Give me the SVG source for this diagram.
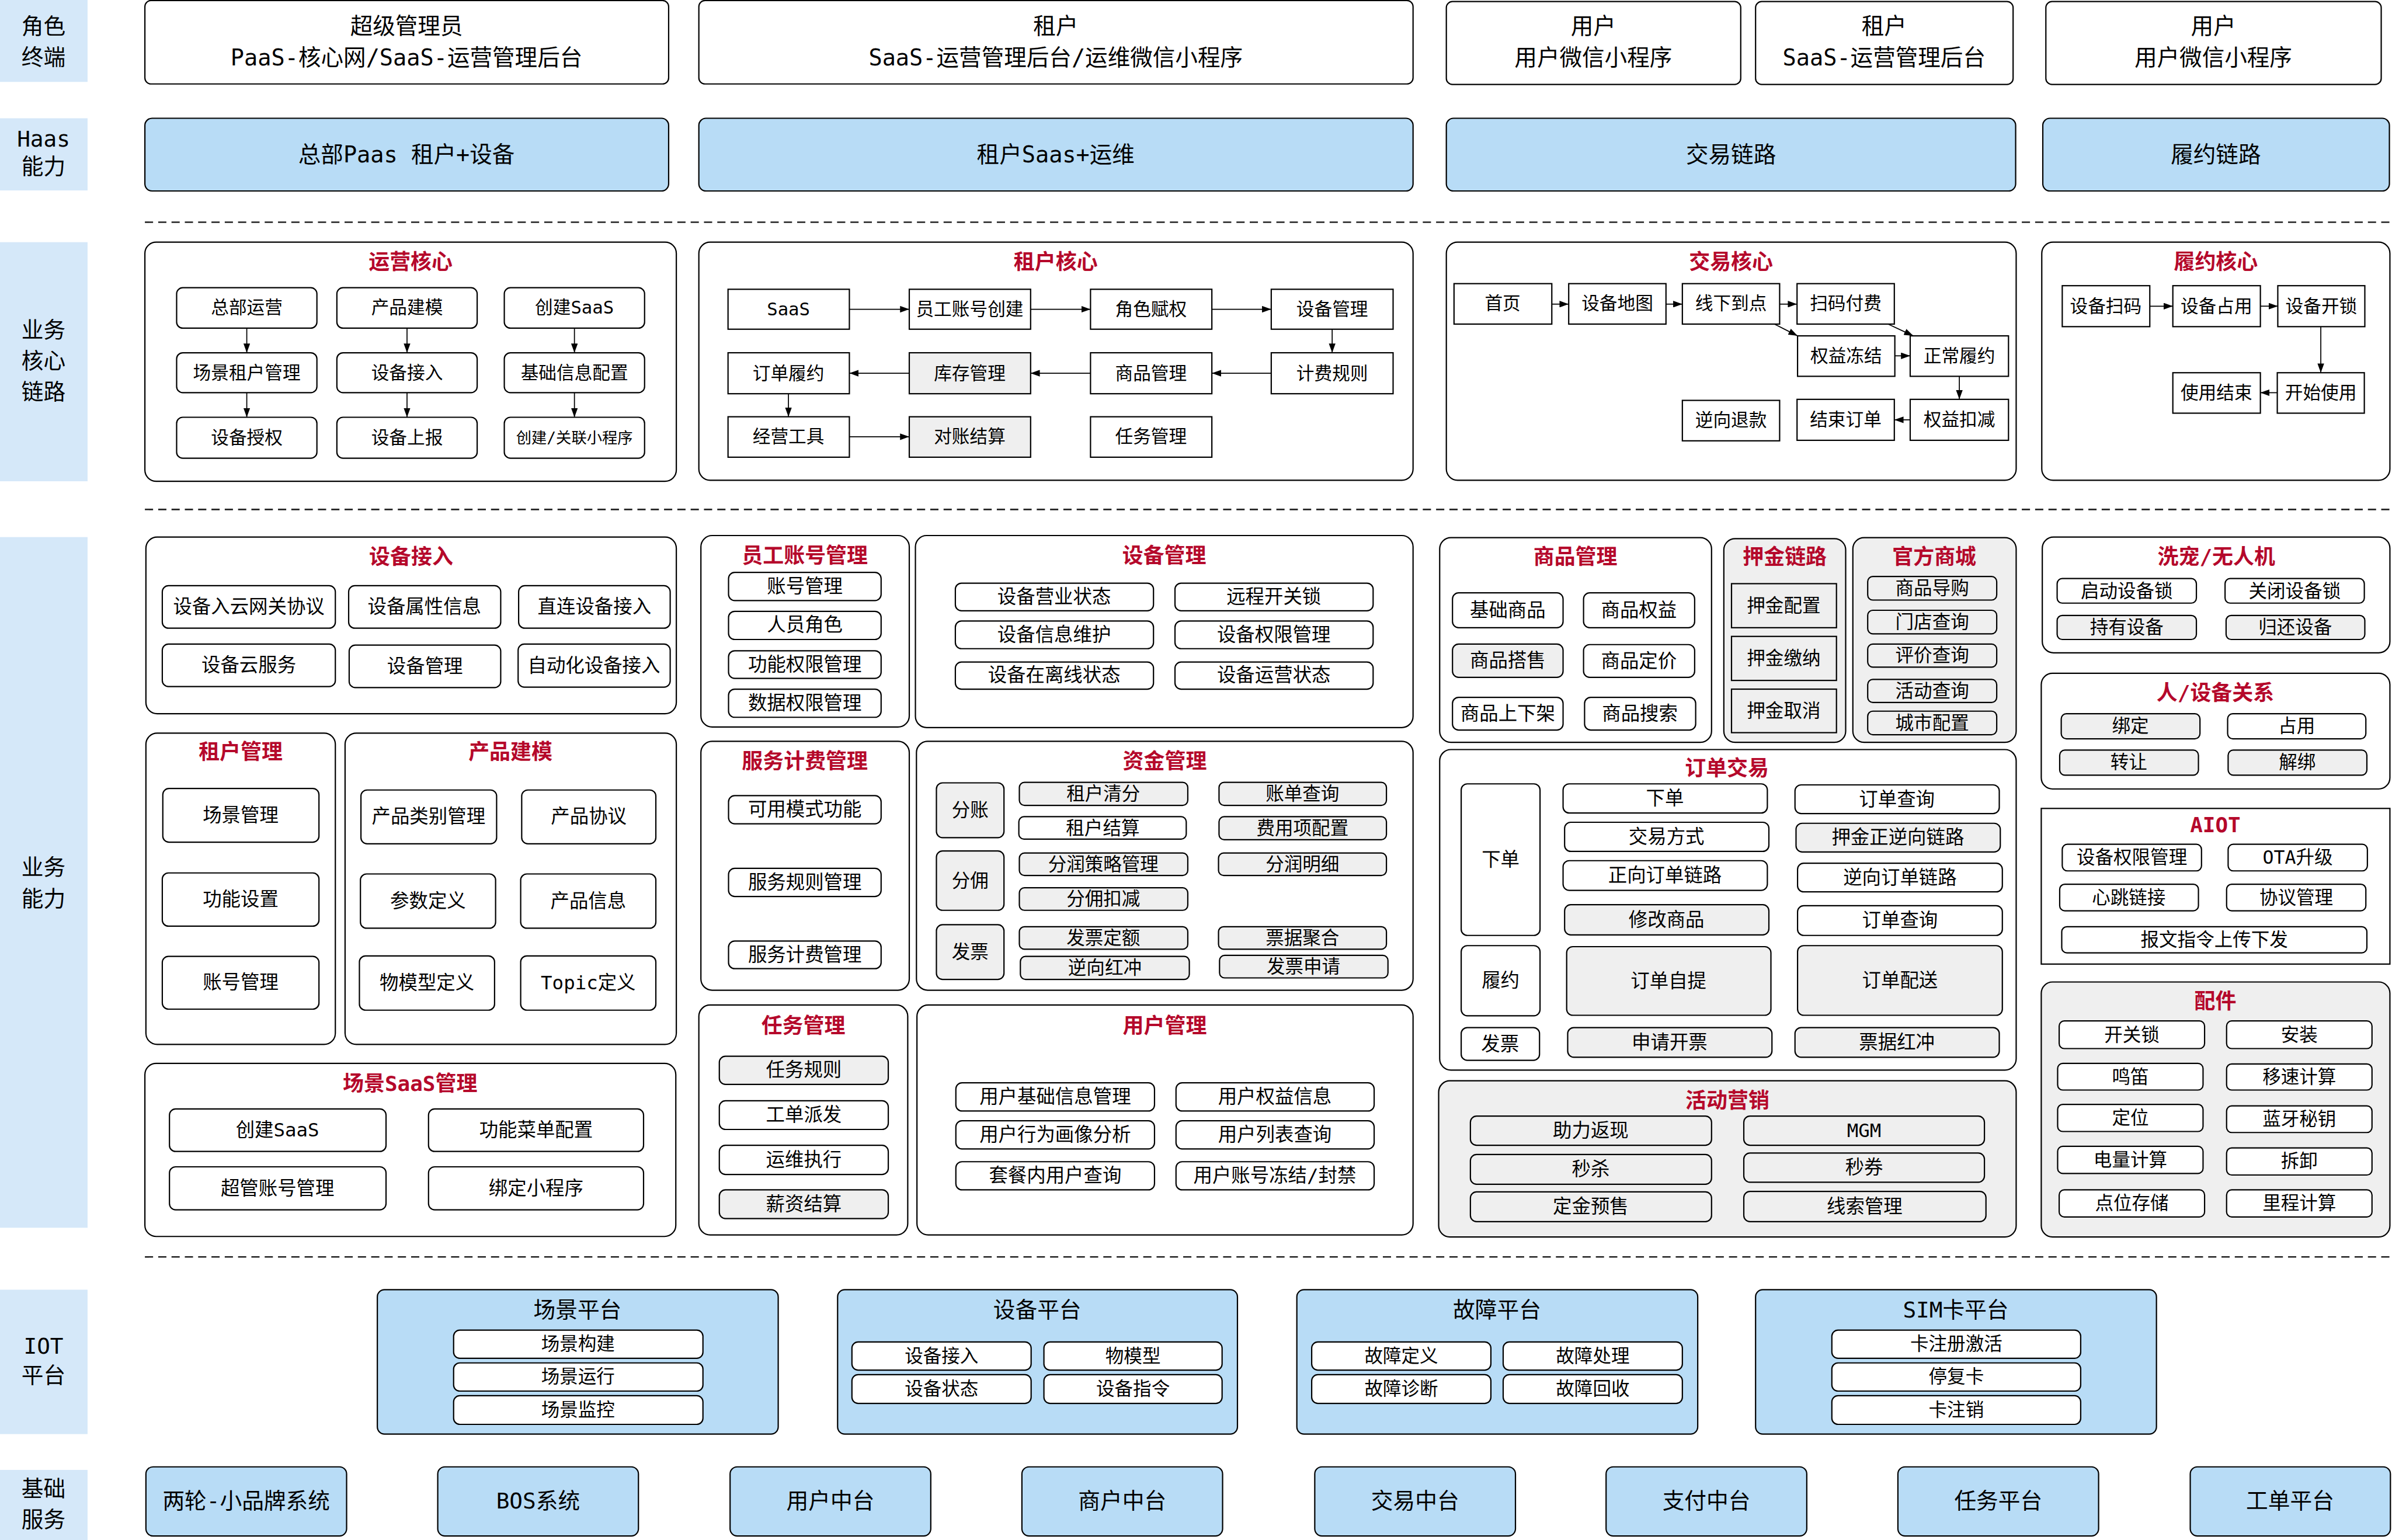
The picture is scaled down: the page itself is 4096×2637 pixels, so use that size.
<svg xmlns="http://www.w3.org/2000/svg" width="4096" height="2637" viewBox="0 0 4096 2637">
<style>
.n{fill:#fff;stroke:#000;stroke-width:2.5}
.g{fill:#efefef;stroke:#000;stroke-width:2.5}
.bl{fill:#b8dcf6;stroke:#000;stroke-width:2.5}
.lb{fill:#d5e8f9}
.dash{stroke:#222;stroke-width:3;stroke-dasharray:16 10;fill:none}
.c{stroke:#000;stroke-width:2;fill:none;marker-end:url(#ah)}
text{font-family:"DejaVu Sans Mono","Noto Sans CJK SC",monospace;text-anchor:middle;dominant-baseline:central;fill:#000;font-size:37px}
.s44{font-size:44px}.s43{font-size:43px}.s36{font-size:36px}.s35{font-size:35px}.s30{font-size:30px}
.tt{font-size:41px;font-weight:bold;fill:#b5082b}
</style>
<defs>
<marker id="ah" viewBox="0 0 18 13" refX="18" refY="6.5" markerWidth="18" markerHeight="13" markerUnits="userSpaceOnUse" orient="auto"><path d="M0,0L18,6.5L0,13z" fill="#000"/></marker>
</defs>
<g transform="scale(0.8767)">
<rect width="4672" height="3008" fill="#fff"/>

<g id="side-labels">
<g id="lbl-role"><rect class="lb" x="0" y="0" width="171" height="160"/><text class="s43" x="85" y="51">角色</text><text class="s43" x="85" y="112">终端</text></g>
<g id="lbl-haas"><rect class="lb" x="0" y="231" width="171" height="141"/><text class="s43" x="85" y="272">Haas</text><text class="s43" x="85" y="325">能力</text></g>
<g id="lbl-core"><rect class="lb" x="0" y="473" width="171" height="467"/><text class="s43" x="85" y="645">业务</text><text class="s43" x="85" y="705">核心</text><text class="s43" x="85" y="765">链路</text></g>
<g id="lbl-ability"><rect class="lb" x="0" y="1049" width="171" height="1349"/><text class="s43" x="85" y="1694">业务</text><text class="s43" x="85" y="1755">能力</text></g>
<g id="lbl-iot"><rect class="lb" x="0" y="2519" width="171" height="282"/><text class="s43" x="85" y="2629">IOT</text><text class="s43" x="85" y="2686">平台</text></g>
<g id="lbl-base"><rect class="lb" x="0" y="2871" width="171" height="137"/><text class="s43" x="85" y="2908">基础</text><text class="s43" x="85" y="2968">服务</text></g>
</g>

<g id="role-1"><rect class="n" x="283" y="1" width="1023" height="163" rx="12"/><text class="s44" x="794" y="51">超级管理员</text><text class="s44" x="794" y="112">PaaS-核心网/SaaS-运营管理后台</text></g>
<g id="role-2"><rect class="n" x="1365" y="1" width="1395" height="163" rx="12"/><text class="s44" x="2062" y="51">租户</text><text class="s44" x="2062" y="112">SaaS-运营管理后台/运维微信小程序</text></g>
<g id="role-3"><rect class="n" x="2825" y="3" width="575" height="162" rx="12"/><text class="s44" x="3112" y="51">用户</text><text class="s44" x="3112" y="112">用户微信小程序</text></g>
<g id="role-4"><rect class="n" x="3429" y="3" width="503" height="162" rx="12"/><text class="s44" x="3680" y="51">租户</text><text class="s44" x="3680" y="112">SaaS-运营管理后台</text></g>
<g id="role-5"><rect class="n" x="3996" y="3" width="655" height="162" rx="12"/><text class="s44" x="4323" y="51">用户</text><text class="s44" x="4323" y="112">用户微信小程序</text></g>

<g id="haas-1"><rect class="bl" x="283" y="231" width="1023" height="142" rx="14"/><text class="s44" x="794" y="302">总部Paas&#160;租户+设备</text></g>
<g id="haas-2"><rect class="bl" x="1365" y="231" width="1395" height="142" rx="14"/><text class="s44" x="2062" y="302">租户Saas+运维</text></g>
<g id="haas-3"><rect class="bl" x="2825" y="231" width="1112" height="142" rx="14"/><text class="s44" x="3381" y="302">交易链路</text></g>
<g id="haas-4"><rect class="bl" x="3990" y="231" width="677" height="142" rx="14"/><text class="s44" x="4328" y="302">履约链路</text></g>

<g id="dividers">
<line class="dash" x1="283" y1="434" x2="4672" y2="434"/>
<line class="dash" x1="283" y1="995" x2="4672" y2="995"/>
<line class="dash" x1="283" y1="2455" x2="4672" y2="2455"/>
</g>

<g id="core-ops"><rect class="n" x="283" y="473" width="1038" height="467" rx="22"/><text class="tt" x="802" y="512">运营核心</text></g>
<g id="core-tenant"><rect class="n" x="1365" y="473" width="1395" height="465" rx="22"/><text class="tt" x="2062" y="512">租户核心</text></g>
<g id="core-trade"><rect class="n" x="2825" y="473" width="1113" height="465" rx="22"/><text class="tt" x="3381" y="512">交易核心</text></g>
<g id="core-fulfill"><rect class="n" x="3988" y="473" width="680" height="465" rx="22"/><text class="tt" x="4328" y="512">履约核心</text></g>

<g id="ops-1"><rect class="n" x="345" y="562" width="274" height="79" rx="12"/><text class="s35" x="482" y="601">总部运营</text></g>
<g id="ops-2"><rect class="n" x="345" y="689" width="274" height="78" rx="12"/><text class="s35" x="482" y="728">场景租户管理</text></g>
<g id="ops-3"><rect class="n" x="345" y="815" width="274" height="80" rx="12"/><text class="s35" x="482" y="855">设备授权</text></g>
<g id="ops-4"><rect class="n" x="658" y="562" width="274" height="79" rx="12"/><text class="s35" x="795" y="601">产品建模</text></g>
<g id="ops-5"><rect class="n" x="658" y="689" width="274" height="78" rx="12"/><text class="s35" x="795" y="728">设备接入</text></g>
<g id="ops-6"><rect class="n" x="658" y="815" width="274" height="80" rx="12"/><text class="s35" x="795" y="855">设备上报</text></g>
<g id="ops-7"><rect class="n" x="985" y="562" width="274" height="79" rx="12"/><text class="s35" x="1122" y="601">创建SaaS</text></g>
<g id="ops-8"><rect class="n" x="985" y="689" width="274" height="78" rx="12"/><text class="s35" x="1122" y="728">基础信息配置</text></g>
<g id="ops-9"><rect class="n" x="985" y="815" width="274" height="80" rx="12"/><text class="s30" x="1122" y="855">创建/关联小程序</text></g>

<g id="ten-1"><rect class="n" x="1422" y="565" width="237" height="78"/><text class="s35" x="1540" y="604">SaaS</text></g>
<g id="ten-2"><rect class="n" x="1776" y="565" width="237" height="78"/><text class="s35" x="1894" y="604">员工账号创建</text></g>
<g id="ten-3"><rect class="n" x="2130" y="565" width="237" height="78"/><text class="s35" x="2248" y="604">角色赋权</text></g>
<g id="ten-4"><rect class="n" x="2483" y="565" width="238" height="78"/><text class="s35" x="2602" y="604">设备管理</text></g>
<g id="ten-5"><rect class="n" x="1422" y="689" width="237" height="80"/><text class="s35" x="1540" y="729">订单履约</text></g>
<g id="ten-6"><rect class="g" x="1776" y="689" width="237" height="80"/><text class="s35" x="1894" y="729">库存管理</text></g>
<g id="ten-7"><rect class="n" x="2130" y="689" width="237" height="80"/><text class="s35" x="2248" y="729">商品管理</text></g>
<g id="ten-8"><rect class="n" x="2483" y="689" width="238" height="80"/><text class="s35" x="2602" y="729">计费规则</text></g>
<g id="ten-9"><rect class="n" x="1422" y="814" width="237" height="79"/><text class="s35" x="1540" y="853">经营工具</text></g>
<g id="ten-10"><rect class="g" x="1776" y="814" width="237" height="79"/><text class="s35" x="1894" y="853">对账结算</text></g>
<g id="ten-11"><rect class="n" x="2130" y="814" width="237" height="79"/><text class="s35" x="2248" y="853">任务管理</text></g>

<g id="tr-1"><rect class="n" x="2840" y="554" width="191" height="79"/><text class="s35" x="2935" y="593">首页</text></g>
<g id="tr-2"><rect class="n" x="3064" y="554" width="190" height="79"/><text class="s35" x="3159" y="593">设备地图</text></g>
<g id="tr-3"><rect class="n" x="3286" y="554" width="190" height="79"/><text class="s35" x="3381" y="593">线下到点</text></g>
<g id="tr-4"><rect class="n" x="3510" y="554" width="190" height="79"/><text class="s35" x="3605" y="593">扫码付费</text></g>
<g id="tr-5"><rect class="n" x="3511" y="656" width="190" height="79"/><text class="s35" x="3606" y="695">权益冻结</text></g>
<g id="tr-6"><rect class="n" x="3731" y="656" width="192" height="79"/><text class="s35" x="3827" y="695">正常履约</text></g>
<g id="tr-7"><rect class="n" x="3510" y="780" width="190" height="80"/><text class="s35" x="3605" y="820">结束订单</text></g>
<g id="tr-8"><rect class="n" x="3731" y="780" width="192" height="80"/><text class="s35" x="3827" y="820">权益扣减</text></g>
<g id="tr-9"><rect class="n" x="3286" y="782" width="190" height="79"/><text class="s35" x="3381" y="821">逆向退款</text></g>

<g id="fu-1"><rect class="n" x="4028" y="558" width="171" height="80"/><text class="s35" x="4113" y="598">设备扫码</text></g>
<g id="fu-2"><rect class="n" x="4244" y="558" width="171" height="80"/><text class="s35" x="4329" y="598">设备占用</text></g>
<g id="fu-3"><rect class="n" x="4449" y="558" width="170" height="80"/><text class="s35" x="4534" y="598">设备开锁</text></g>
<g id="fu-4"><rect class="n" x="4244" y="728" width="171" height="79"/><text class="s35" x="4329" y="767">使用结束</text></g>
<g id="fu-5"><rect class="n" x="4448" y="728" width="170" height="79"/><text class="s35" x="4533" y="767">开始使用</text></g>

<g id="connectors">
<line class="c" x1="482" y1="641" x2="482" y2="689"/>
<line class="c" x1="482" y1="767" x2="482" y2="815"/>
<line class="c" x1="795" y1="641" x2="795" y2="689"/>
<line class="c" x1="795" y1="767" x2="795" y2="815"/>
<line class="c" x1="1122" y1="641" x2="1122" y2="689"/>
<line class="c" x1="1122" y1="767" x2="1122" y2="815"/>
<line class="c" x1="1659" y1="604" x2="1776" y2="604"/>
<line class="c" x1="2013" y1="604" x2="2130" y2="604"/>
<line class="c" x1="2367" y1="604" x2="2483" y2="604"/>
<line class="c" x1="2602" y1="643" x2="2602" y2="689"/>
<line class="c" x1="2483" y1="729" x2="2367" y2="729"/>
<line class="c" x1="2130" y1="729" x2="2013" y2="729"/>
<line class="c" x1="1776" y1="729" x2="1659" y2="729"/>
<line class="c" x1="1540" y1="769" x2="1540" y2="814"/>
<line class="c" x1="1659" y1="853" x2="1776" y2="853"/>
<line class="c" x1="3031" y1="594" x2="3064" y2="594"/>
<line class="c" x1="3254" y1="594" x2="3286" y2="594"/>
<line class="c" x1="3476" y1="594" x2="3510" y2="594"/>
<line class="c" x1="3466" y1="633" x2="3511" y2="656"/>
<line class="c" x1="3688" y1="633" x2="3737" y2="656"/>
<line class="c" x1="3701" y1="695" x2="3731" y2="695"/>
<line class="c" x1="3827" y1="735" x2="3827" y2="780"/>
<line class="c" x1="3731" y1="820" x2="3700" y2="820"/>
<line class="c" x1="4199" y1="598" x2="4244" y2="598"/>
<line class="c" x1="4415" y1="598" x2="4449" y2="598"/>
<line class="c" x1="4533" y1="638" x2="4533" y2="728"/>
<line class="c" x1="4448" y1="767" x2="4415" y2="767"/>
</g>

<g id="ab-devaccess"><rect class="n" x="285" y="1049" width="1036" height="345" rx="22"/><text class="tt" x="803" y="1088">设备接入</text></g>
<g id="da-1"><rect class="n" x="317" y="1144" width="338" height="83" rx="12"/><text x="486" y="1185">设备入云网关协议</text></g>
<g id="da-2"><rect class="n" x="681" y="1144" width="297" height="83" rx="12"/><text x="829" y="1185">设备属性信息</text></g>
<g id="da-3"><rect class="n" x="1013" y="1144" width="296" height="83" rx="12"/><text x="1161" y="1185">直连设备接入</text></g>
<g id="da-4"><rect class="n" x="317" y="1258" width="338" height="83" rx="12"/><text x="486" y="1299">设备云服务</text></g>
<g id="da-5"><rect class="n" x="682" y="1260" width="296" height="83" rx="12"/><text x="830" y="1301">设备管理</text></g>
<g id="da-6"><rect class="n" x="1012" y="1258" width="297" height="84" rx="12"/><text x="1160" y="1300">自动化设备接入</text></g>

<g id="ab-tenant"><rect class="n" x="285" y="1432" width="370" height="608" rx="22"/><text class="tt" x="470" y="1469">租户管理</text></g>
<g id="tm-1"><rect class="n" x="318" y="1540" width="305" height="105" rx="12"/><text x="470" y="1592">场景管理</text></g>
<g id="tm-2"><rect class="n" x="317" y="1705" width="306" height="104" rx="12"/><text x="470" y="1757">功能设置</text></g>
<g id="tm-3"><rect class="n" x="317" y="1868" width="306" height="103" rx="12"/><text x="470" y="1919">账号管理</text></g>

<g id="ab-product"><rect class="n" x="674" y="1432" width="647" height="608" rx="22"/><text class="tt" x="997" y="1469">产品建模</text></g>
<g id="pm-1"><rect class="n" x="705" y="1543" width="265" height="105" rx="12"/><text x="837" y="1595">产品类别管理</text></g>
<g id="pm-2"><rect class="n" x="1019" y="1543" width="262" height="105" rx="12"/><text x="1150" y="1595">产品协议</text></g>
<g id="pm-3"><rect class="n" x="704" y="1707" width="264" height="106" rx="12"/><text x="836" y="1760">参数定义</text></g>
<g id="pm-4"><rect class="n" x="1017" y="1707" width="264" height="106" rx="12"/><text x="1149" y="1760">产品信息</text></g>
<g id="pm-5"><rect class="n" x="702" y="1867" width="264" height="106" rx="12"/><text x="834" y="1920">物模型定义</text></g>
<g id="pm-6"><rect class="n" x="1017" y="1867" width="264" height="106" rx="12"/><text x="1149" y="1920">Topic定义</text></g>

<g id="ab-scene"><rect class="n" x="283" y="2077" width="1037" height="338" rx="22"/><text class="tt" x="801" y="2116">场景SaaS管理</text></g>
<g id="sc-1"><rect class="n" x="331" y="2166" width="423" height="83" rx="12"/><text x="542" y="2207">创建SaaS</text></g>
<g id="sc-2"><rect class="n" x="837" y="2166" width="420" height="83" rx="12"/><text x="1047" y="2207">功能菜单配置</text></g>
<g id="sc-3"><rect class="n" x="331" y="2279" width="423" height="84" rx="12"/><text x="542" y="2321">超管账号管理</text></g>
<g id="sc-4"><rect class="n" x="837" y="2279" width="420" height="84" rx="12"/><text x="1047" y="2321">绑定小程序</text></g>

<g id="ab-staff"><rect class="n" x="1369" y="1046" width="407" height="374" rx="22"/><text class="tt" x="1572" y="1085">员工账号管理</text></g>
<g id="st-1"><rect class="n" x="1423" y="1118" width="298" height="55" rx="12"/><text x="1572" y="1145">账号管理</text></g>
<g id="st-2"><rect class="n" x="1423" y="1194" width="298" height="55" rx="12"/><text x="1572" y="1221">人员角色</text></g>
<g id="st-3"><rect class="n" x="1423" y="1271" width="298" height="54" rx="12"/><text x="1572" y="1298">功能权限管理</text></g>
<g id="st-4"><rect class="n" x="1423" y="1346" width="298" height="55" rx="12"/><text x="1572" y="1373">数据权限管理</text></g>

<g id="ab-device"><rect class="n" x="1788" y="1046" width="972" height="375" rx="22"/><text class="tt" x="2274" y="1085">设备管理</text></g>
<g id="dm-1"><rect class="n" x="1866" y="1139" width="387" height="54" rx="12"/><text x="2059" y="1166">设备营业状态</text></g>
<g id="dm-2"><rect class="n" x="1866" y="1213" width="387" height="54" rx="12"/><text x="2059" y="1240">设备信息维护</text></g>
<g id="dm-3"><rect class="n" x="1866" y="1293" width="387" height="53" rx="12"/><text x="2059" y="1319">设备在离线状态</text></g>
<g id="dm-4"><rect class="n" x="2295" y="1139" width="387" height="54" rx="12"/><text x="2488" y="1166">远程开关锁</text></g>
<g id="dm-5"><rect class="n" x="2295" y="1213" width="387" height="54" rx="12"/><text x="2488" y="1240">设备权限管理</text></g>
<g id="dm-6"><rect class="n" x="2295" y="1293" width="387" height="53" rx="12"/><text x="2488" y="1319">设备运营状态</text></g>

<g id="ab-billing"><rect class="n" x="1369" y="1448" width="407" height="486" rx="22"/><text class="tt" x="1572" y="1487">服务计费管理</text></g>
<g id="bi-1"><rect class="n" x="1423" y="1554" width="298" height="55" rx="12"/><text x="1572" y="1581">可用模式功能</text></g>
<g id="bi-2"><rect class="n" x="1423" y="1696" width="298" height="55" rx="12"/><text x="1572" y="1723">服务规则管理</text></g>
<g id="bi-3"><rect class="n" x="1423" y="1838" width="298" height="54" rx="12"/><text x="1572" y="1865">服务计费管理</text></g>

<g id="ab-fund"><rect class="n" x="1790" y="1448" width="970" height="486" rx="22"/><text class="tt" x="2275" y="1487">资金管理</text></g>
<g id="fd-1"><rect class="g" x="1829" y="1529" width="132" height="107" rx="12"/><text class="s36" x="1895" y="1582">分账</text></g>
<g id="fd-2"><rect class="g" x="1829" y="1662" width="132" height="116" rx="12"/><text class="s36" x="1895" y="1720">分佣</text></g>
<g id="fd-3"><rect class="g" x="1829" y="1806" width="132" height="107" rx="12"/><text class="s36" x="1895" y="1859">发票</text></g>
<g id="fd-4"><rect class="g" x="1991" y="1528" width="329" height="45" rx="10"/><text class="s36" x="2155" y="1550">租户清分</text></g>
<g id="fd-5"><rect class="n" x="1990" y="1595" width="327" height="44" rx="10"/><text class="s36" x="2154" y="1617">租户结算</text></g>
<g id="fd-6"><rect class="g" x="1991" y="1666" width="329" height="44" rx="10"/><text class="s36" x="2155" y="1688">分润策略管理</text></g>
<g id="fd-7"><rect class="g" x="1991" y="1734" width="329" height="44" rx="10"/><text class="s36" x="2155" y="1756">分佣扣减</text></g>
<g id="fd-8"><rect class="g" x="1991" y="1810" width="329" height="44" rx="10"/><text class="s36" x="2155" y="1832">发票定额</text></g>
<g id="fd-9"><rect class="g" x="1993" y="1868" width="330" height="45" rx="10"/><text class="s36" x="2158" y="1890">逆向红冲</text></g>
<g id="fd-10"><rect class="g" x="2381" y="1528" width="327" height="45" rx="10"/><text class="s36" x="2544" y="1550">账单查询</text></g>
<g id="fd-11"><rect class="g" x="2381" y="1595" width="327" height="45" rx="10"/><text class="s36" x="2544" y="1617">费用项配置</text></g>
<g id="fd-12"><rect class="g" x="2380" y="1666" width="328" height="44" rx="10"/><text class="s36" x="2544" y="1688">分润明细</text></g>
<g id="fd-13"><rect class="g" x="2380" y="1810" width="328" height="44" rx="10"/><text class="s36" x="2544" y="1832">票据聚合</text></g>
<g id="fd-14"><rect class="g" x="2382" y="1866" width="329" height="44" rx="10"/><text class="s36" x="2546" y="1888">发票申请</text></g>

<g id="ab-task"><rect class="n" x="1365" y="1963" width="408" height="449" rx="22"/><text class="tt" x="1569" y="2003">任务管理</text></g>
<g id="tk-1"><rect class="g" x="1405" y="2063" width="330" height="55" rx="12"/><text x="1570" y="2090">任务规则</text></g>
<g id="tk-2"><rect class="n" x="1405" y="2150" width="330" height="56" rx="12"/><text x="1570" y="2178">工单派发</text></g>
<g id="tk-3"><rect class="n" x="1405" y="2237" width="330" height="57" rx="12"/><text x="1570" y="2265">运维执行</text></g>
<g id="tk-4"><rect class="g" x="1405" y="2324" width="330" height="56" rx="12"/><text x="1570" y="2352">薪资结算</text></g>

<g id="ab-user"><rect class="n" x="1791" y="1963" width="969" height="449" rx="22"/><text class="tt" x="2275" y="2003">用户管理</text></g>
<g id="us-1"><rect class="n" x="1867" y="2115" width="388" height="55" rx="12"/><text x="2061" y="2142">用户基础信息管理</text></g>
<g id="us-2"><rect class="n" x="1867" y="2189" width="388" height="55" rx="12"/><text x="2061" y="2216">用户行为画像分析</text></g>
<g id="us-3"><rect class="n" x="1867" y="2269" width="388" height="55" rx="12"/><text x="2061" y="2296">套餐内用户查询</text></g>
<g id="us-4"><rect class="n" x="2297" y="2115" width="387" height="55" rx="12"/><text x="2490" y="2142">用户权益信息</text></g>
<g id="us-5"><rect class="n" x="2297" y="2189" width="387" height="55" rx="12"/><text x="2490" y="2216">用户列表查询</text></g>
<g id="us-6"><rect class="n" x="2297" y="2269" width="387" height="55" rx="12"/><text x="2490" y="2296">用户账号冻结/封禁</text></g>

<g id="ab-goods"><rect class="n" x="2812" y="1050" width="531" height="400" rx="22"/><text class="tt" x="3077" y="1088">商品管理</text></g>
<g id="gd-1"><rect class="n" x="2837" y="1158" width="216" height="68" rx="12"/><text x="2945" y="1192">基础商品</text></g>
<g id="gd-2"><rect class="n" x="3093" y="1158" width="217" height="68" rx="12"/><text x="3201" y="1192">商品权益</text></g>
<g id="gd-3"><rect class="g" x="2837" y="1258" width="216" height="65" rx="12"/><text x="2945" y="1290">商品搭售</text></g>
<g id="gd-4"><rect class="n" x="3093" y="1259" width="217" height="64" rx="12"/><text x="3201" y="1291">商品定价</text></g>
<g id="gd-5"><rect class="n" x="2837" y="1362" width="216" height="64" rx="12"/><text x="2945" y="1394">商品上下架</text></g>
<g id="gd-6"><rect class="n" x="3095" y="1362" width="217" height="64" rx="12"/><text x="3203" y="1394">商品搜索</text></g>

<g id="ab-deposit"><rect class="g" x="3367" y="1052" width="238" height="398" rx="22"/><text class="tt" x="3486" y="1088">押金链路</text></g>
<g id="dp-1"><rect class="g" x="3382" y="1140" width="205" height="86"/><text class="s36" x="3484" y="1183">押金配置</text></g>
<g id="dp-2"><rect class="g" x="3382" y="1243" width="205" height="86"/><text class="s36" x="3484" y="1286">押金缴纳</text></g>
<g id="dp-3"><rect class="g" x="3382" y="1346" width="205" height="85"/><text class="s36" x="3484" y="1388">押金取消</text></g>

<g id="ab-mall"><rect class="g" x="3619" y="1050" width="319" height="400" rx="22"/><text class="tt" x="3778" y="1088">官方商城</text></g>
<g id="ml-1"><rect class="g" x="3648" y="1126" width="252" height="46" rx="10"/><text class="s36" x="3774" y="1149">商品导购</text></g>
<g id="ml-2"><rect class="g" x="3648" y="1192" width="252" height="46" rx="10"/><text class="s36" x="3774" y="1215">门店查询</text></g>
<g id="ml-3"><rect class="g" x="3648" y="1258" width="252" height="45" rx="10"/><text class="s36" x="3774" y="1280">评价查询</text></g>
<g id="ml-4"><rect class="g" x="3648" y="1327" width="252" height="45" rx="10"/><text class="s36" x="3774" y="1349">活动查询</text></g>
<g id="ml-5"><rect class="g" x="3648" y="1389" width="252" height="46" rx="10"/><text class="s36" x="3774" y="1412">城市配置</text></g>

<g id="ab-order"><rect class="n" x="2812" y="1464" width="1126" height="626" rx="22"/><text class="tt" x="3373" y="1501">订单交易</text></g>
<g id="od-1"><rect class="n" x="2854" y="1531" width="154" height="296" rx="12"/><text x="2931" y="1679">下单</text></g>
<g id="od-2"><rect class="n" x="2854" y="1847" width="154" height="137" rx="12"/><text x="2931" y="1915">履约</text></g>
<g id="od-3"><rect class="n" x="2854" y="2007" width="153" height="64" rx="12"/><text x="2930" y="2039">发票</text></g>
<g id="od-4"><rect class="n" x="3053" y="1531" width="399" height="57" rx="12"/><text x="3252" y="1559">下单</text></g>
<g id="od-5"><rect class="n" x="3056" y="1606" width="399" height="57" rx="12"/><text x="3255" y="1634">交易方式</text></g>
<g id="od-6"><rect class="n" x="3053" y="1681" width="399" height="58" rx="12"/><text x="3252" y="1710">正向订单链路</text></g>
<g id="od-7"><rect class="g" x="3056" y="1767" width="399" height="59" rx="12"/><text x="3255" y="1796">修改商品</text></g>
<g id="od-8"><rect class="g" x="3060" y="1849" width="399" height="134" rx="12"/><text x="3259" y="1916">订单自提</text></g>
<g id="od-9"><rect class="g" x="3062" y="2007" width="399" height="58" rx="12"/><text x="3261" y="2036">申请开票</text></g>
<g id="od-10"><rect class="n" x="3506" y="1533" width="399" height="56" rx="12"/><text x="3705" y="1561">订单查询</text></g>
<g id="od-11"><rect class="g" x="3508" y="1608" width="399" height="56" rx="12"/><text x="3707" y="1636">押金正逆向链路</text></g>
<g id="od-12"><rect class="n" x="3511" y="1686" width="400" height="56" rx="12"/><text x="3711" y="1714">逆向订单链路</text></g>
<g id="od-13"><rect class="n" x="3511" y="1769" width="400" height="58" rx="12"/><text x="3711" y="1798">订单查询</text></g>
<g id="od-14"><rect class="g" x="3511" y="1847" width="400" height="136" rx="12"/><text x="3711" y="1915">订单配送</text></g>
<g id="od-15"><rect class="g" x="3506" y="2007" width="399" height="58" rx="12"/><text x="3705" y="2036">票据红冲</text></g>

<g id="ab-marketing"><rect class="g" x="2810" y="2111" width="1128" height="305" rx="22"/><text class="tt" x="3374" y="2150">活动营销</text></g>
<g id="mk-1"><rect class="g" x="2872" y="2180" width="471" height="57" rx="12"/><text x="3107" y="2208">助力返现</text></g>
<g id="mk-2"><rect class="g" x="2872" y="2255" width="471" height="58" rx="12"/><text x="3107" y="2284">秒杀</text></g>
<g id="mk-3"><rect class="g" x="2872" y="2328" width="471" height="58" rx="12"/><text x="3107" y="2357">定金预售</text></g>
<g id="mk-4"><rect class="g" x="3406" y="2180" width="470" height="57" rx="12"/><text x="3641" y="2208">MGM</text></g>
<g id="mk-5"><rect class="g" x="3406" y="2252" width="470" height="57" rx="12"/><text x="3641" y="2280">秒券</text></g>
<g id="mk-6"><rect class="g" x="3406" y="2327" width="473" height="59" rx="12"/><text x="3642" y="2356">线索管理</text></g>

<g id="ab-pet"><rect class="n" x="3989" y="1049" width="679" height="226" rx="22"/><text class="tt" x="4329" y="1088">洗宠/无人机</text></g>
<g id="pt-1"><rect class="n" x="4018" y="1130" width="272" height="48" rx="10"/><text class="s36" x="4154" y="1154">启动设备锁</text></g>
<g id="pt-2"><rect class="n" x="4346" y="1130" width="272" height="48" rx="10"/><text class="s36" x="4482" y="1154">关闭设备锁</text></g>
<g id="pt-3"><rect class="g" x="4018" y="1202" width="272" height="47" rx="10"/><text class="s36" x="4154" y="1225">持有设备</text></g>
<g id="pt-4"><rect class="g" x="4348" y="1202" width="271" height="47" rx="10"/><text class="s36" x="4483" y="1225">归还设备</text></g>

<g id="ab-relation"><rect class="n" x="3987" y="1315" width="681" height="226" rx="22"/><text class="tt" x="4327" y="1353">人/设备关系</text></g>
<g id="rl-1"><rect class="g" x="4026" y="1394" width="271" height="49" rx="10"/><text class="s36" x="4161" y="1418">绑定</text></g>
<g id="rl-2"><rect class="n" x="4351" y="1394" width="270" height="49" rx="10"/><text class="s36" x="4486" y="1418">占用</text></g>
<g id="rl-3"><rect class="g" x="4023" y="1465" width="271" height="49" rx="10"/><text class="s36" x="4158" y="1489">转让</text></g>
<g id="rl-4"><rect class="g" x="4352" y="1465" width="271" height="49" rx="10"/><text class="s36" x="4487" y="1489">解绑</text></g>

<g id="ab-aiot"><rect class="n" x="3987" y="1579" width="681" height="304"/><text class="tt" x="4327" y="1611">AIOT</text></g>
<g id="ai-1"><rect class="n" x="4028" y="1649" width="272" height="52" rx="10"/><text class="s36" x="4164" y="1675">设备权限管理</text></g>
<g id="ai-2"><rect class="n" x="4352" y="1649" width="272" height="52" rx="10"/><text class="s36" x="4488" y="1675">OTA升级</text></g>
<g id="ai-3"><rect class="n" x="4023" y="1727" width="271" height="52" rx="10"/><text class="s36" x="4158" y="1753">心跳链接</text></g>
<g id="ai-4"><rect class="n" x="4349" y="1727" width="272" height="52" rx="10"/><text class="s36" x="4485" y="1753">协议管理</text></g>
<g id="ai-5"><rect class="n" x="4027" y="1810" width="596" height="51" rx="10"/><text class="s36" x="4325" y="1835">报文指令上传下发</text></g>

<g id="ab-parts"><rect class="g" x="3987" y="1918" width="681" height="498" rx="22"/><text class="tt" x="4327" y="1956">配件</text></g>
<g id="pa-1"><rect class="n" x="4022" y="1994" width="284" height="54" rx="10"/><text class="s36" x="4164" y="2021">开关锁</text></g>
<g id="pa-2"><rect class="n" x="4349" y="1994" width="284" height="54" rx="10"/><text class="s36" x="4491" y="2021">安装</text></g>
<g id="pa-3"><rect class="n" x="4019" y="2077" width="284" height="52" rx="10"/><text class="s36" x="4161" y="2103">鸣笛</text></g>
<g id="pa-4"><rect class="n" x="4349" y="2078" width="284" height="51" rx="10"/><text class="s36" x="4491" y="2103">移速计算</text></g>
<g id="pa-5"><rect class="n" x="4019" y="2157" width="284" height="53" rx="10"/><text class="s36" x="4161" y="2183">定位</text></g>
<g id="pa-6"><rect class="n" x="4349" y="2160" width="284" height="52" rx="10"/><text class="s36" x="4491" y="2186">蓝牙秘钥</text></g>
<g id="pa-7"><rect class="n" x="4019" y="2239" width="284" height="53" rx="10"/><text class="s36" x="4161" y="2265">电量计算</text></g>
<g id="pa-8"><rect class="n" x="4349" y="2242" width="284" height="53" rx="10"/><text class="s36" x="4491" y="2268">拆卸</text></g>
<g id="pa-9"><rect class="n" x="4022" y="2324" width="284" height="53" rx="10"/><text class="s36" x="4164" y="2350">点位存储</text></g>
<g id="pa-10"><rect class="n" x="4349" y="2324" width="284" height="53" rx="10"/><text class="s36" x="4491" y="2350">里程计算</text></g>

<g id="iot-scene"><rect class="bl" x="737" y="2519" width="783" height="282" rx="14"/><text class="s43" x="1128" y="2559">场景平台</text></g>
<g id="is-1"><rect class="n" x="886" y="2598" width="487" height="55" rx="12"/><text class="s36" x="1129" y="2625">场景构建</text></g>
<g id="is-2"><rect class="n" x="886" y="2662" width="487" height="55" rx="12"/><text class="s36" x="1129" y="2689">场景运行</text></g>
<g id="is-3"><rect class="n" x="886" y="2726" width="487" height="56" rx="12"/><text class="s36" x="1129" y="2754">场景监控</text></g>

<g id="iot-device"><rect class="bl" x="1636" y="2519" width="781" height="282" rx="14"/><text class="s43" x="2026" y="2559">设备平台</text></g>
<g id="idv-1"><rect class="n" x="1664" y="2621" width="350" height="55" rx="12"/><text class="s36" x="1839" y="2648">设备接入</text></g>
<g id="idv-2"><rect class="n" x="2039" y="2621" width="348" height="55" rx="12"/><text class="s36" x="2213" y="2648">物模型</text></g>
<g id="idv-3"><rect class="n" x="1664" y="2685" width="350" height="56" rx="12"/><text class="s36" x="1839" y="2713">设备状态</text></g>
<g id="idv-4"><rect class="n" x="2039" y="2685" width="348" height="56" rx="12"/><text class="s36" x="2213" y="2713">设备指令</text></g>

<g id="iot-fault"><rect class="bl" x="2533" y="2519" width="783" height="282" rx="14"/><text class="s43" x="2924" y="2559">故障平台</text></g>
<g id="ift-1"><rect class="n" x="2562" y="2621" width="350" height="55" rx="12"/><text class="s36" x="2737" y="2648">故障定义</text></g>
<g id="ift-2"><rect class="n" x="2936" y="2621" width="350" height="55" rx="12"/><text class="s36" x="3111" y="2648">故障处理</text></g>
<g id="ift-3"><rect class="n" x="2562" y="2685" width="350" height="56" rx="12"/><text class="s36" x="2737" y="2713">故障诊断</text></g>
<g id="ift-4"><rect class="n" x="2936" y="2685" width="350" height="56" rx="12"/><text class="s36" x="3111" y="2713">故障回收</text></g>

<g id="iot-sim"><rect class="bl" x="3429" y="2519" width="783" height="282" rx="14"/><text class="s43" x="3820" y="2559">SIM卡平台</text></g>
<g id="ism-1"><rect class="n" x="3578" y="2598" width="486" height="55" rx="12"/><text class="s36" x="3821" y="2625">卡注册激活</text></g>
<g id="ism-2"><rect class="n" x="3578" y="2662" width="486" height="55" rx="12"/><text class="s36" x="3821" y="2689">停复卡</text></g>
<g id="ism-3"><rect class="n" x="3578" y="2726" width="486" height="56" rx="12"/><text class="s36" x="3821" y="2754">卡注销</text></g>

<g id="base-1"><rect class="bl" x="285" y="2865" width="392" height="135" rx="14"/><text class="s43" x="481" y="2932">两轮-小品牌系统</text></g>
<g id="base-2"><rect class="bl" x="855" y="2865" width="392" height="135" rx="14"/><text class="s43" x="1051" y="2932">BOS系统</text></g>
<g id="base-3"><rect class="bl" x="1426" y="2865" width="392" height="135" rx="14"/><text class="s43" x="1622" y="2932">用户中台</text></g>
<g id="base-4"><rect class="bl" x="1996" y="2865" width="392" height="135" rx="14"/><text class="s43" x="2192" y="2932">商户中台</text></g>
<g id="base-5"><rect class="bl" x="2568" y="2865" width="392" height="135" rx="14"/><text class="s43" x="2764" y="2932">交易中台</text></g>
<g id="base-6"><rect class="bl" x="3137" y="2865" width="392" height="135" rx="14"/><text class="s43" x="3333" y="2932">支付中台</text></g>
<g id="base-7"><rect class="bl" x="3707" y="2865" width="392" height="135" rx="14"/><text class="s43" x="3903" y="2932">任务平台</text></g>
<g id="base-8"><rect class="bl" x="4278" y="2865" width="391" height="135" rx="14"/><text class="s43" x="4473" y="2932">工单平台</text></g>
</g>
</svg>
